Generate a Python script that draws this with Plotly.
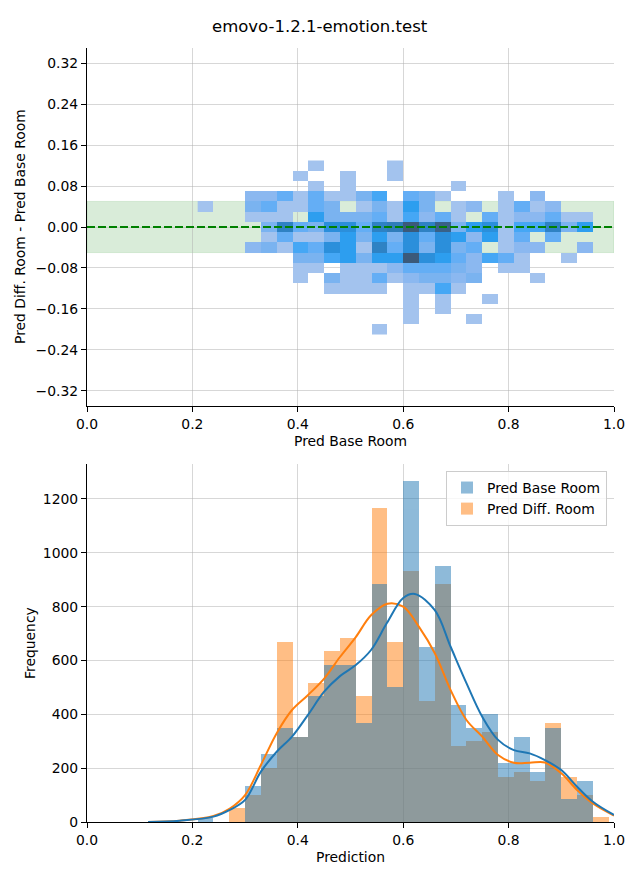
import plotly.graph_objects as go

# ---------------- data ----------------
title_text = "emovo-1.2.1-emotion.test"

# 2D histogram (top): bin left edges on x (width 0.03), bin centres on y (height 0.02)
hm_x_left = [0.21, 0.24, 0.27, 0.30, 0.33, 0.36, 0.39, 0.42, 0.45, 0.48, 0.51, 0.54, 0.57,
             0.60, 0.63, 0.66, 0.69, 0.72, 0.75, 0.78, 0.81, 0.84, 0.87, 0.90, 0.93, 0.96]
hm_y_center = [0.12, 0.10, 0.08, 0.06, 0.04, 0.02, 0.00, -0.02, -0.04, -0.06, -0.08,
               -0.10, -0.12, -0.14, -0.16, -0.18, -0.20]
N = None
# estimated counts per cell, rows follow hm_y_center, columns follow hm_x_left
hm_counts = [
    [N, N, N, N, N, N, N, 5, N, N, N, N, 5, N, N, N, N, N, N, N, N, N, N, N, N, N],
    [N, N, N, N, N, N, 5, N, N, 5, N, N, 5, N, N, N, N, N, N, N, N, N, N, N, N, N],
    [N, N, N, N, N, N, N, 5, N, 5, N, N, N, N, N, N, 5, N, N, N, N, N, N, N, N, N],
    [N, N, N, 15, 15, 40, 5, 40, 5, 5, 25, 55, N, 40, 25, 5, N, N, N, 5, N, 15, N, N, N, N],
    [5, N, N, 25, 40, 5, 5, 40, 25, N, 5, 25, 5, 70, 25, N, 5, 15, N, 5, 40, 5, 15, N, N, N],
    [N, N, N, 5, 5, 5, N, 70, 25, 25, 25, 40, 5, 55, 15, 40, 5, N, 40, 5, 15, 15, 40, 5, 5, N],
    [N, N, N, N, 25, 100, 40, 25, 85, 85, 40, 100, 105, 130, 100, 125, 25, 70, 85, 5, 55, 55, 100, 25, 70, N],
    [N, N, N, N, 5, 40, 5, 5, 25, 70, 25, 70, 25, 85, 40, 85, 70, 15, 70, 5, 40, N, 40, N, N, N],
    [N, N, N, 15, 25, 5, 55, 40, 85, 70, 5, 100, 40, 85, 25, 85, 25, 40, N, 5, 15, 15, N, N, 15, N],
    [N, N, N, N, N, N, 25, 25, 55, 70, 25, 70, 70, 130, 85, 70, 40, 15, 55, 40, 5, N, N, 5, N, N],
    [N, N, N, N, N, N, 5, 5, N, 5, 5, 5, 15, 40, 40, 40, 25, 15, N, 5, 5, N, N, N, N, N],
    [N, N, N, N, N, N, 5, N, 25, 5, 5, 40, 5, 15, 25, 25, 15, 25, N, N, N, 5, N, N, N, N],
    [N, N, N, N, N, N, N, N, 5, 5, 5, 5, N, 5, 5, 55, 5, N, N, N, N, N, N, N, N, N],
    [N, N, N, N, N, N, N, N, N, N, N, N, N, 5, N, 5, N, N, 5, N, N, N, N, N, N, N],
    [N, N, N, N, N, N, N, N, N, N, N, N, N, 5, N, 5, N, N, N, N, N, N, N, N, N, N],
    [N, N, N, N, N, N, N, N, N, N, N, N, N, 5, N, N, N, 5, N, N, N, N, N, N, N, N],
    [N, N, N, N, N, N, N, N, N, N, N, 5, N, N, N, N, N, N, N, N, N, N, N, N, N, N],
]

# histograms (bottom): same bin left edges
hist_bins_left = hm_x_left
base_counts = [15, 0, 0, 134, 253, 350, 316, 469, 583, 583, 368, 884, 501,
               1267, 650, 951, 435, 349, 401, 219, 316, 186, 349, 85, 152, 0]
diff_counts = [0, 0, 52, 100, 202, 668, 316, 516, 635, 683, 468, 1166, 668,
               932, 449, 884, 282, 301, 334, 167, 186, 152, 368, 167, 100, 19]

# KDE curves
kde_base_x = [0.116, 0.176, 0.24, 0.271, 0.30, 0.33, 0.36, 0.389, 0.419, 0.45, 0.48, 0.51,
              0.539, 0.569, 0.60, 0.622, 0.66, 0.69, 0.72, 0.75, 0.78, 0.81, 0.84, 0.869,
              0.90, 0.93, 0.96, 1.0]
kde_base_y = [0, 5, 20, 45, 82, 187, 261, 317, 397, 484, 542, 583, 639, 739, 832, 847,
              787, 651, 516, 391, 305, 267, 255, 230, 193, 131, 75, 26]
kde_diff_x = [0.116, 0.176, 0.24, 0.271, 0.30, 0.33, 0.36, 0.389, 0.419, 0.45, 0.48, 0.51,
              0.539, 0.57, 0.60, 0.63, 0.66, 0.69, 0.72, 0.75, 0.78, 0.81, 0.84, 0.869,
              0.90, 0.93, 0.96, 1.0]
kde_diff_y = [0, 5, 22, 50, 100, 212, 330, 416, 471, 533, 613, 687, 768, 811, 800, 725,
              627, 490, 379, 317, 249, 220, 220, 221, 181, 119, 69, 24]

top_yticks = [0.32, 0.24, 0.16, 0.08, 0.0, -0.08, -0.16, -0.24, -0.32]
x_ticks = [0.0, 0.2, 0.4, 0.6, 0.8, 1.0]
bottom_yticks = [0, 200, 400, 600, 800, 1000, 1200]

legend_names = ["Pred Base Room", "Pred Diff. Room"]

# ---------------- styling ----------------
OFF = 8                      # page body margin in the browser
W, H = 640 - OFF, 880 - OFF
FONT = "DejaVu Sans"
FS = 13.9
BIN_W = 0.03
BLUE = "#1f77b4"
ORANGE = "#ff7f0e"
GRID = "rgba(176,176,176,0.5)"


def px_x(p):
    return (p - OFF) / W


def px_y(p):
    return 1 - (p - OFF) / H


xdom = [px_x(87), px_x(614)]
top_dom = [px_y(406), px_y(48)]
bot_dom = [px_y(822), px_y(464)]

fig = go.Figure()

# heatmap
hm_colorscale = [
    [0.00, "#a3c3ee"],
    [0.08, "#8bb8f0"],
    [0.16, "#7ab3f0"],
    [0.28, "#64aef5"],
    [0.40, "#45a7f5"],
    [0.52, "#2d9eef"],
    [0.64, "#2b8fdb"],
    [0.78, "#2e80c0"],
    [1.00, "#3b5a7a"],
]
fig.add_trace(go.Heatmap(
    x=[v + BIN_W / 2 for v in hm_x_left],
    y=hm_y_center,
    z=hm_counts,
    colorscale=hm_colorscale,
    zmin=5, zmax=130,
    showscale=False,
    hoverinfo="skip",
    xaxis="x", yaxis="y",
))

# histogram bars: orange first, blue on top
fig.add_trace(go.Bar(
    x=[v + BIN_W / 2 for v in hist_bins_left], y=diff_counts, width=BIN_W,
    marker=dict(color=ORANGE, line=dict(width=0)), opacity=0.5,
    name=legend_names[1], legendrank=2, xaxis="x2", yaxis="y2",
))
fig.add_trace(go.Bar(
    x=[v + BIN_W / 2 for v in hist_bins_left], y=base_counts, width=BIN_W,
    marker=dict(color=BLUE, line=dict(width=0)), opacity=0.5,
    name=legend_names[0], legendrank=1, xaxis="x2", yaxis="y2",
))
fig.add_trace(go.Scatter(
    x=kde_diff_x, y=kde_diff_y, mode="lines",
    line=dict(color=ORANGE, width=2, shape="spline", smoothing=1.0),
    showlegend=False, hoverinfo="skip", xaxis="x2", yaxis="y2",
))
fig.add_trace(go.Scatter(
    x=kde_base_x, y=kde_base_y, mode="lines",
    line=dict(color=BLUE, width=2, shape="spline", smoothing=1.0),
    showlegend=False, hoverinfo="skip", xaxis="x2", yaxis="y2",
))

axis_common = dict(
    showline=True, linecolor="black", linewidth=1.1,
    ticks="outside", ticklen=5, tickwidth=1.1, tickcolor="black",
    showgrid=True, gridcolor=GRID, gridwidth=1,
    zeroline=False, layer="above traces", automargin=False,
    tickfont=dict(family=FONT, size=FS, color="black"),
    mirror=False,
)


def fmt(v, nd):
    s = f"{abs(v):.{nd}f}"
    return ("\u2212" + s) if v < 0 else s


fig.update_layout(
    width=W, height=H,
    margin=dict(l=0, r=0, t=0, b=0, autoexpand=False),
    paper_bgcolor="white", plot_bgcolor="white",
    font=dict(family=FONT, size=FS, color="black"),
    barmode="overlay",
    bargap=0,
    xaxis=dict(domain=xdom, anchor="y", range=[0, 1],
               tickvals=x_ticks, ticktext=[fmt(v, 1) for v in x_ticks], **axis_common),
    yaxis=dict(domain=top_dom, anchor="x", range=[-0.35, 0.35],
               tickvals=top_yticks, ticktext=[fmt(v, 2) for v in top_yticks], **axis_common),
    xaxis2=dict(domain=xdom, anchor="y2", range=[0, 1],
                tickvals=x_ticks, ticktext=[fmt(v, 1) for v in x_ticks], **axis_common),
    yaxis2=dict(domain=bot_dom, anchor="x2", range=[0, 1330],
                tickvals=bottom_yticks, ticktext=[str(v) for v in bottom_yticks], **axis_common),
    legend=dict(
        x=px_x(607), xanchor="right", y=px_y(471), yanchor="top",
        bgcolor="rgba(255,255,255,0.8)", bordercolor="#cccccc", borderwidth=1,
        font=dict(family=FONT, size=FS, color="black"),
        traceorder="normal", itemwidth=30,
    ),
    shapes=[
        dict(type="rect", xref="x", yref="y", x0=0, x1=1, y0=-0.05, y1=0.05,
             fillcolor="rgba(0,128,0,0.15)", line=dict(width=1, color="rgba(0,128,0,0.12)"),
             layer="below"),
        dict(type="line", xref="x", yref="y", x0=0, x1=1, y0=0, y1=0,
             line=dict(color="green", width=2.1, dash="8px,3px"), layer="above"),
    ],
    annotations=[
        dict(text=title_text, xref="paper", yref="paper", x=px_x(320), y=px_y(26),
             xanchor="center", yanchor="middle", showarrow=False,
             font=dict(family=FONT, size=16.5, color="black")),
        dict(text="Pred Base Room", xref="paper", yref="paper",
             x=(xdom[0] + xdom[1]) / 2, y=px_y(441), xanchor="center", yanchor="middle",
             showarrow=False, font=dict(family=FONT, size=FS, color="black")),
        dict(text="Pred Diff. Room - Pred Base Room", xref="paper", yref="paper",
             x=px_x(20), y=px_y(227), xanchor="center", yanchor="middle", textangle=-90,
             showarrow=False, font=dict(family=FONT, size=FS, color="black")),
        dict(text="Prediction", xref="paper", yref="paper",
             x=(xdom[0] + xdom[1]) / 2, y=px_y(857), xanchor="center", yanchor="middle",
             showarrow=False, font=dict(family=FONT, size=FS, color="black")),
        dict(text="Frequency", xref="paper", yref="paper",
             x=px_x(30), y=px_y(643), xanchor="center", yanchor="middle", textangle=-90,
             showarrow=False, font=dict(family=FONT, size=FS, color="black")),
    ],
)

fig.write_html("out.html")
